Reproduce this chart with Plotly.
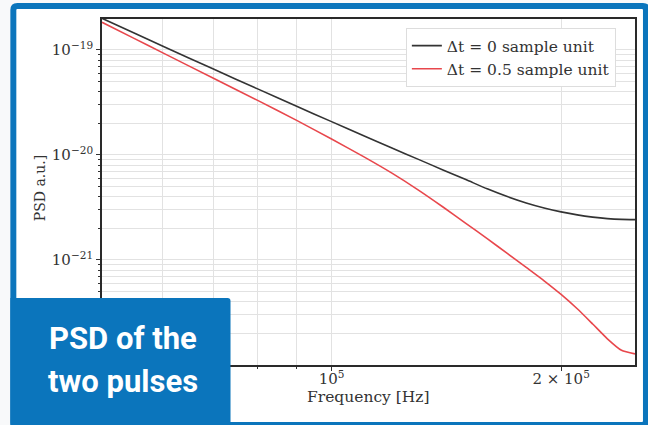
import plotly.graph_objects as go

# ---- data ----
freq_hz = [5.0e4, 5.5e4, 6.0e4, 7.0e4, 8.0e4, 9.0e4, 1.0e5, 1.1e5, 1.2e5, 1.3e5, 1.4e5,
           1.5e5, 1.6e5, 1.7e5, 1.8e5, 1.9e5, 2.0e5, 2.1e5, 2.2e5, 2.3e5, 2.4e5, 2.5e5]
psd_dt0 = [2.003e-19, 1.457e-19, 1.091e-19, 6.575e-20, 4.26e-20, 2.908e-20, 2.079e-20,
           1.536e-20, 1.166e-20, 9.08e-21, 7.21e-21, 5.83e-21, 4.76e-21, 4.015e-21,
           3.49e-21, 3.127e-21, 2.871e-21, 2.688e-21, 2.562e-21, 2.479e-21, 2.436e-21,
           2.425e-21]
psd_dt05 = [1.835e-19, 1.296e-19, 9.44e-20, 5.38e-20, 3.31e-20, 2.135e-20, 1.419e-20,
            9.69e-21, 6.71e-21, 4.63e-21, 3.196e-21, 2.235e-21, 1.595e-21, 1.155e-21,
            8.50e-22, 6.34e-22, 4.70e-22, 3.43e-22, 2.457e-22, 1.776e-22, 1.380e-22,
            1.276e-22]
series_names = ["Δt = 0 sample unit", "Δt = 0.5 sample unit"]

x_tick_vals = [1e5, 2e5]
x_tick_text = ["10<sup>5</sup>", "2 × 10<sup>5</sup>"]
y_tick_vals = [1e-19, 1e-20, 1e-21]
y_tick_text = ["10<sup>−19</sup>", "10<sup>−20</sup>", "10<sup>−21</sup>"]
x_minor_vals = [6e4, 7e4, 8e4, 9e4]
y_minor_vals = [m * 10.0 ** e for e in (-22, -21, -20, -19) for m in range(1, 10)]

# ---- layout geometry (pixels) ----
W, H = 648, 425
L, R, T, B = 102, 637, 19, 365
BLUE = "#0b75bc"
SERIF = "DejaVu Serif"
INK = "#333333"
GRID = "#e2e2e2"


def px(x):
    return (x - L) / (R - L)


def py(y):
    return (B - y) / (B - T)


def rect_path(x0, y0, x1, y1, r=0.0, rtr=None):
    """rounded rectangle path in paper coords (pixel inputs)"""
    r_tr = r if rtr is None else rtr
    pts = [
        f"M{px(x0 + r)},{py(y0)}",
        f"L{px(x1 - r_tr)},{py(y0)}",
        f"Q{px(x1)},{py(y0)} {px(x1)},{py(y0 + r_tr)}",
        f"L{px(x1)},{py(y1 - r)}",
        f"Q{px(x1)},{py(y1)} {px(x1 - r)},{py(y1)}",
        f"L{px(x0 + r)},{py(y1)}",
        f"Q{px(x0)},{py(y1)} {px(x0)},{py(y1 - r)}",
        f"L{px(x0)},{py(y0 + r)}",
        f"Q{px(x0)},{py(y0)} {px(x0 + r)},{py(y0)}",
        "Z",
    ]
    return " ".join(pts)


fig = go.Figure()
fig.add_trace(go.Scatter(x=freq_hz, y=psd_dt0, mode="lines", name=series_names[0],
                         line=dict(color="#333333", width=1.6, shape="spline", smoothing=0.6)))
fig.add_trace(go.Scatter(x=freq_hz, y=psd_dt05, mode="lines", name=series_names[1],
                         line=dict(color="#e8474c", width=1.6, shape="spline", smoothing=0.6)))

shapes = [
    # blue frame
    dict(type="path", xref="paper", yref="paper", layer="below",
         path=rect_path(10, 3, 652, 429, r=7), fillcolor=BLUE, line=dict(width=0)),
    dict(type="path", xref="paper", yref="paper", layer="below",
         path=rect_path(16, 9, 645, 422, r=1), fillcolor="white", line=dict(width=0)),
    # label box
    dict(type="path", xref="paper", yref="paper", layer="above",
         path=rect_path(10, 298, 231, 432, r=0, rtr=3), fillcolor=BLUE, line=dict(width=0)),
]

annotations = [
    dict(text="PSD of the", x=px(123), y=py(338), xref="paper", yref="paper",
         showarrow=False, xanchor="center", yanchor="middle",
         font=dict(family="Roboto", size=31, color="white", weight="bold")),
    dict(text="two pulses", x=px(123), y=py(381), xref="paper", yref="paper",
         showarrow=False, xanchor="center", yanchor="middle",
         font=dict(family="Roboto", size=31, color="white", weight="bold")),
    dict(text="Frequency [Hz]", x=px(369.5), y=py(397), xref="paper", yref="paper",
         showarrow=False, xanchor="center", yanchor="middle",
         font=dict(family=SERIF, size=15.5, color=INK)),
    dict(text="PSD a.u.]", x=px(40), y=py(188), xref="paper", yref="paper",
         showarrow=False, xanchor="center", yanchor="middle", textangle=-90,
         font=dict(family=SERIF, size=14, color=INK)),
]

axis_common = dict(showline=True, linecolor="#2a2a2a", linewidth=1.8, mirror=True,
                   ticks="outside", ticklen=4, tickcolor=INK, tickwidth=1,
                   showgrid=True, gridcolor=GRID, gridwidth=1, zeroline=False,
                   tickfont=dict(family=SERIF, size=15, color=INK))

fig.update_layout(
    width=W, height=H,
    margin=dict(l=L, r=W - R, t=T, b=H - B, pad=0),
    paper_bgcolor="#f8f9fa", plot_bgcolor="rgba(0,0,0,0)",
    showlegend=True,
    legend=dict(x=px(407), y=py(28), xanchor="left", yanchor="top",
                bgcolor="white", bordercolor="#dddddd", borderwidth=1,
                font=dict(family=SERIF, size=15.5, color=INK),
                tracegroupgap=0, itemwidth=30),
    shapes=shapes, annotations=annotations,
    xaxis=dict(type="log", range=[4.69897, 5.39794], tickmode="array",
               tickvals=x_tick_vals, ticktext=x_tick_text, ticklabelstandoff=-5,
               minor=dict(tickmode="array", tickvals=x_minor_vals, showgrid=True,
                          gridcolor=GRID, ticks="outside", ticklen=2,
                          tickcolor=INK),
               **axis_common),
    yaxis=dict(type="log", range=[-22.0, -18.705], tickmode="array",
               tickvals=y_tick_vals, ticktext=y_tick_text,
               minor=dict(tickmode="array", tickvals=y_minor_vals, showgrid=True,
                          gridcolor=GRID, ticks="outside", ticklen=2,
                          tickcolor=INK),
               **axis_common),
)

fig.write_html("out.html")
